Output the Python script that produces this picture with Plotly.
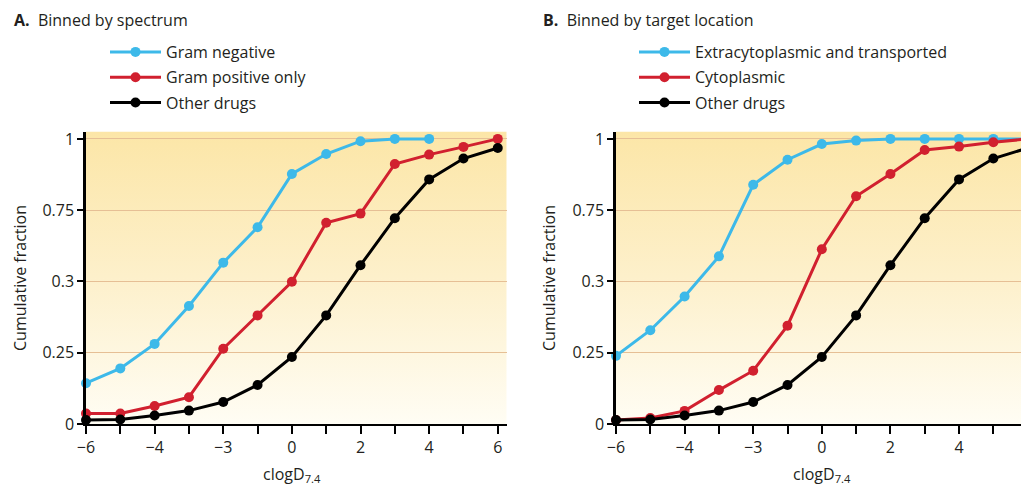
import base64
import plotly.graph_objects as go

# ---------------- data ----------------
x_bins = [-6, -5, -4, -3, -2, -1, 0, 1, 2, 3, 4, 5, 6]

# Panel A: binned by spectrum
gram_negative = [0.143, 0.195, 0.281, 0.414, 0.566, 0.690, 0.877, 0.947, 0.992, 1.0, 1.0]
gram_positive_only = [0.037, 0.037, 0.063, 0.094, 0.264, 0.381, 0.499, 0.706, 0.738, 0.912, 0.945, 0.972, 1.0]
other_drugs_a = [0.014, 0.016, 0.030, 0.047, 0.077, 0.137, 0.235, 0.381, 0.557, 0.722, 0.858, 0.931, 0.968]

# Panel B: binned by target location
extracytoplasmic = [0.239, 0.329, 0.447, 0.588, 0.839, 0.927, 0.982, 0.994, 1.0, 1.0, 1.0, 1.0, 1.0]
cytoplasmic = [0.014, 0.021, 0.046, 0.119, 0.187, 0.345, 0.613, 0.799, 0.877, 0.961, 0.973, 0.988, 1.0]
other_drugs_b = [0.014, 0.016, 0.030, 0.047, 0.077, 0.137, 0.235, 0.381, 0.557, 0.722, 0.858, 0.931, 0.968]

# tick labels (as printed in the original)
x_tickvals = [-6, -4, -2, 0, 2, 4, 6]
x_ticktext = ["\u22126", "\u22124", "\u22123", "0", "2", "4", "6"]
x_minor_tickvals = [-5, -3, -1, 1, 3, 5]
y_tickvals = [0, 0.25, 0.5, 0.75, 1]
y_ticktext = ["0", "0.25", "0.3", "0.75", "1"]

# ---------------- style ----------------
BLUE = "#3DB9E9"
RED = "#D1202F"
BLACK = "#000000"
TEXT = "#231F20"
GRID = "#E6BF95"
FONT = "Open Sans"

OFF = 8                      # page body margin of the browser
W, H = 1029 - OFF, 487 - OFF

def px_x(p):
    return (p - OFF) / W

def px_y(p):
    return (H - (p - OFF)) / H

fig = go.Figure()

def add_series(xs, ys, name, color, xa, ya, legend, group):
    fig.add_trace(go.Scatter(
        x=xs[:len(ys)], y=ys, name=name, mode="lines+markers",
        line=dict(color=color, width=3),
        marker=dict(color=color, size=10),
        xaxis=xa, yaxis=ya, legend=legend, legendgroup=group, cliponaxis=False,
    ))

add_series(x_bins, gram_negative, "Gram negative", BLUE, "x", "y", "legend", "a1")
add_series(x_bins, gram_positive_only, "Gram positive only", RED, "x", "y", "legend", "a2")
add_series(x_bins, other_drugs_a, "Other drugs", BLACK, "x", "y", "legend", "a3")

add_series(x_bins, extracytoplasmic, "Extracytoplasmic and transported", BLUE, "x2", "y2", "legend2", "b1")
add_series(x_bins, cytoplasmic, "Cytoplasmic", RED, "x2", "y2", "legend2", "b2")
add_series(x_bins, other_drugs_b, "Other drugs", BLACK, "x2", "y2", "legend2", "b3")

# gradient background image (svg)
svg = ('<svg xmlns="http://www.w3.org/2000/svg" width="100" height="100" preserveAspectRatio="none">'
       '<defs><linearGradient id="g" x1="0" y1="0" x2="0" y2="1">'
       '<stop offset="0" stop-color="#FCE6A7"/><stop offset="0.5" stop-color="#FDF0CB"/>'
       '<stop offset="1" stop-color="#FFFDF4"/>'
       '</linearGradient></defs><rect width="100" height="100" fill="url(#g)"/></svg>')
src = "data:image/svg+xml;base64," + base64.b64encode(svg.encode()).decode()
for xr, yr in (("x domain", "y domain"), ("x2 domain", "y2 domain")):
    fig.add_layout_image(dict(source=src, xref=xr, yref=yr, x=0, y=1, sizex=1, sizey=1,
                              xanchor="left", yanchor="top", sizing="stretch", layer="below"))

xaxis_common = dict(
    tickmode="array", tickvals=x_tickvals, ticktext=x_ticktext,
    ticks="outside", ticklen=8, tickwidth=1.5, tickcolor=BLACK,
    minor=dict(tickmode="array", tickvals=x_minor_tickvals, ticks="outside",
               ticklen=8, tickwidth=1.5, tickcolor=BLACK, showgrid=False),
    showline=True, linecolor=BLACK, linewidth=2, showgrid=False, zeroline=False,
    tickfont=dict(family=FONT, size=16, color=TEXT), ticklabeloverflow="allow",
    fixedrange=True, automargin=False,
)
yaxis_common = dict(
    tickmode="array", tickvals=y_tickvals, ticktext=y_ticktext,
    ticks="outside", ticklen=6, tickwidth=1.5, tickcolor=BLACK,
    showline=True, linecolor=BLACK, linewidth=2.5, showgrid=True, gridcolor=GRID, gridwidth=1,
    zeroline=False, range=[0, 1.026],
    tickfont=dict(family=FONT, size=16, color=TEXT), ticklabeloverflow="allow",
    domain=[px_y(424), px_y(131.5)], fixedrange=True, automargin=False,
)

legend_common = dict(xanchor="left", yanchor="top", bgcolor="rgba(0,0,0,0)",
                     font=dict(family=FONT, size=16, color=TEXT),
                     tracegroupgap=1.5, itemwidth=51)

fig.update_layout(
    width=W, height=H,
    margin=dict(l=0, r=0, t=0, b=0, autoexpand=False),
    paper_bgcolor="white", plot_bgcolor="rgba(0,0,0,0)",
    font=dict(family=FONT, color=TEXT),
    xaxis=dict(xaxis_common, domain=[px_x(86), px_x(506.7)], range=[-6, 6.26], anchor="y"),
    yaxis=dict(yaxis_common, anchor="x"),
    xaxis2=dict(xaxis_common, domain=[px_x(616), 1.0], range=[-6, 6.04], anchor="y2"),
    yaxis2=dict(yaxis_common, anchor="x2"),
    legend=dict(legend_common, x=px_x(105), y=px_y(35)),
    legend2=dict(legend_common, x=px_x(634), y=px_y(35)),
    showlegend=True,
)

annotations = [
    dict(text="<b>A.</b>  Binned by spectrum", x=px_x(12), y=px_y(20), xanchor="left", yanchor="middle"),
    dict(text="<b>B.</b>  Binned by target location", x=px_x(541), y=px_y(20), xanchor="left", yanchor="middle"),
    dict(text="Cumulative fraction", x=px_x(20), y=px_y(278), textangle=-90, xanchor="center", yanchor="middle"),
    dict(text="Cumulative fraction", x=px_x(549), y=px_y(278), textangle=-90, xanchor="center", yanchor="middle"),
    dict(text="clogD<sub>7.4</sub>", x=px_x(292), y=px_y(474), xanchor="center", yanchor="middle"),
    dict(text="clogD<sub>7.4</sub>", x=px_x(822), y=px_y(474), xanchor="center", yanchor="middle"),
]
for a in annotations:
    a.update(xref="paper", yref="paper", showarrow=False,
             font=dict(family=FONT, size=16, color=TEXT))
    fig.add_annotation(**a)

fig.write_html("out.html")
